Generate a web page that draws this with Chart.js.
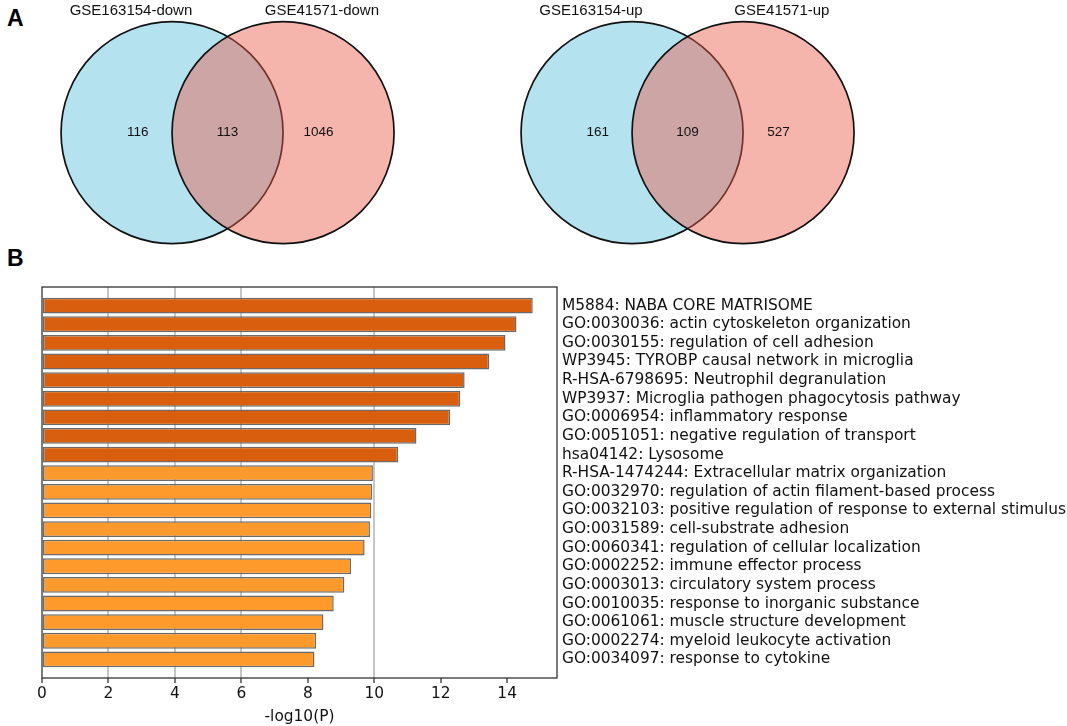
<!DOCTYPE html>
<html>
<head>
<meta charset="utf-8">
<script src="https://cdn.jsdelivr.net/npm/chart.js@4.4.1/dist/chart.umd.min.js"></script>
<style>
  html, body { margin: 0; padding: 0; background: #fff; }
  #wrap { position: relative; width: 1067px; height: 726px; background: #fff; overflow: hidden; }
  .panel { position: absolute; font-family: "Liberation Sans", Arial, sans-serif; font-weight: bold; font-size: 23px; color: #000; line-height: 1; }
  .box { position: absolute; }
</style>
</head>
<body>
<div id="wrap">
  <div class="panel" style="left:7px; top:7px;">A</div>
  <div class="panel" style="left:7px; top:247px;">B</div>
  <div class="box" style="left:0px; top:0px; width:444px; height:250px;"><canvas id="vennDown"></canvas></div>
  <div class="box" style="left:460px; top:0px; width:444px; height:250px;"><canvas id="vennUp"></canvas></div>
  <div class="box" style="left:0px; top:250px; width:1067px; height:476px;"><canvas id="bars"></canvas></div>
</div>
<script>
// ---------- data ----------
const vennDownSets = ['GSE163154-down', 'GSE41571-down'];
const vennDownCounts = [116, 113, 1046];   // only-left, both, only-right
const vennUpSets = ['GSE163154-up', 'GSE41571-up'];
const vennUpCounts = [161, 109, 527];

const categories = [
  'M5884: NABA CORE MATRISOME',
  'GO:0030036: actin cytoskeleton organization',
  'GO:0030155: regulation of cell adhesion',
  'WP3945: TYROBP causal network in microglia',
  'R-HSA-6798695: Neutrophil degranulation',
  'WP3937: Microglia pathogen phagocytosis pathway',
  'GO:0006954: inflammatory response',
  'GO:0051051: negative regulation of transport',
  'hsa04142: Lysosome',
  'R-HSA-1474244: Extracellular matrix organization',
  'GO:0032970: regulation of actin filament-based process',
  'GO:0032103: positive regulation of response to external stimulus',
  'GO:0031589: cell-substrate adhesion',
  'GO:0060341: regulation of cellular localization',
  'GO:0002252: immune effector process',
  'GO:0003013: circulatory system process',
  'GO:0010035: response to inorganic substance',
  'GO:0061061: muscle structure development',
  'GO:0002274: myeloid leukocyte activation',
  'GO:0034097: response to cytokine'
];
const logP = [14.77, 14.28, 13.95, 13.46, 12.72, 12.59, 12.28, 11.27, 10.72, 9.96,
              9.94, 9.91, 9.87, 9.71, 9.30, 9.10, 8.78, 8.47, 8.25, 8.20];
const xTickValues = [0, 2, 4, 6, 8, 10, 12, 14];
const xMax = 15.5;

// ---------- Venn diagrams ----------
const vennText = {
  id: 'vennText',
  afterDatasetsDraw(chart, args, opts) {
    const { ctx, scales: { x, y } } = chart;
    ctx.save();
    ctx.fillStyle = '#111';
    ctx.textAlign = 'center';
    ctx.textBaseline = 'middle';
    ctx.font = '15px "Liberation Sans", Arial, sans-serif';
    const nameY = y.getPixelForValue(1.095);
    ctx.fillText(opts.names[0], x.getPixelForValue(-0.37), nameY);
    ctx.fillText(opts.names[1], x.getPixelForValue(1.35), nameY);
    ctx.font = '13.5px "Liberation Sans", Arial, sans-serif';
    const cY = y.getPixelForValue(0);
    ctx.fillText(String(opts.counts[0]), x.getPixelForValue(-0.31), cY);
    ctx.fillText(String(opts.counts[1]), x.getPixelForValue(0.5), cY);
    ctx.fillText(String(opts.counts[2]), x.getPixelForValue(1.32), cY);
    ctx.restore();
  }
};

function makeVenn(id, names, counts) {
  const rad = (c) => {
    const xs = c.chart.scales.x;
    return Math.abs(xs.getPixelForValue(1) - xs.getPixelForValue(0));
  };
  return new Chart(document.getElementById(id), {
    type: 'scatter',
    data: {
      datasets: [{
        data: [{ x: 0, y: 0 }, { x: 1, y: 0 }],
        pointBackgroundColor: ['#b4e2ee', 'rgba(233,91,73,0.45)'],
        pointBorderColor: '#111',
        pointBorderWidth: 1.7,
        pointRadius: rad,
        pointHoverRadius: rad,
        clip: false
      }]
    },
    options: {
      responsive: true,
      maintainAspectRatio: false,
      animation: false,
      events: [],
      layout: { padding: 0 },
      scales: {
        x: { type: 'linear', min: -1.55, max: 2.45, display: false },
        y: { type: 'linear', min: -1.057, max: 1.195, display: false }
      },
      plugins: {
        legend: { display: false },
        tooltip: { enabled: false },
        vennText: { names, counts }
      }
    },
    plugins: [vennText]
  });
}
makeVenn('vennDown', vennDownSets, vennDownCounts);
makeVenn('vennUp', vennUpSets, vennUpCounts);

// ---------- Bar chart ----------
const frame = {
  id: 'frame',
  afterDraw(chart) {
    const { ctx, chartArea: a } = chart;
    ctx.save();
    ctx.strokeStyle = '#333';
    ctx.lineWidth = 1.3;
    ctx.strokeRect(a.left, a.top, a.right - a.left, a.bottom - a.top);
    ctx.restore();
  }
};

const barLabels = [''].concat(categories, ['']);
const barData = [null].concat(logP, [null]);

new Chart(document.getElementById('bars'), {
  type: 'bar',
  data: {
    labels: barLabels,
    datasets: [{
      data: barData,
      backgroundColor: (c) => (c.dataIndex <= 9 ? '#d95f0e' : '#fe9a2b'),
      borderColor: '#6a6a6a',
      borderWidth: 1.5,
      borderSkipped: false,
      barPercentage: 0.85,
      categoryPercentage: 1.0
    }]
  },
  options: {
    indexAxis: 'y',
    responsive: true,
    maintainAspectRatio: false,
    animation: false,
    events: [],
    layout: { padding: { left: 42, top: 37, right: 0, bottom: 0 } },
    scales: {
      x: {
        type: 'linear',
        min: 0,
        max: xMax,
        afterBuildTicks: (s) => { s.ticks = xTickValues.map(v => ({ value: v })); },
        ticks: {
          font: { family: 'DejaVu Sans', size: 15.4 },
          color: '#111',
          padding: 2
        },
        grid: {
          color: (c) => ([2, 4, 6, 10].includes(c.tick && c.tick.value) ? '#c6c6c6' : 'rgba(0,0,0,0)'),
          lineWidth: 2,
          drawTicks: true,
          tickLength: 5,
          tickColor: '#333',
          tickWidth: 1.3
        },
        border: { display: false },
        title: {
          display: true,
          text: '-log10(P)',
          font: { family: 'DejaVu Sans', size: 15.4 },
          color: '#111',
          padding: { top: 2, bottom: 0 }
        },
        afterFit: (s) => { s.height = 48; }
      },
      y: {
        type: 'category',
        position: 'right',
        offset: false,
        grid: { display: false, drawTicks: false },
        border: { display: false },
        ticks: {
          autoSkip: false,
          font: { family: 'DejaVu Sans', size: 15.4 },
          color: '#111',
          padding: 5
        },
        afterFit: (s) => { s.width = 510; }
      }
    },
    plugins: {
      legend: { display: false },
      tooltip: { enabled: false }
    }
  },
  plugins: [frame]
});
</script>
</body>
</html>
